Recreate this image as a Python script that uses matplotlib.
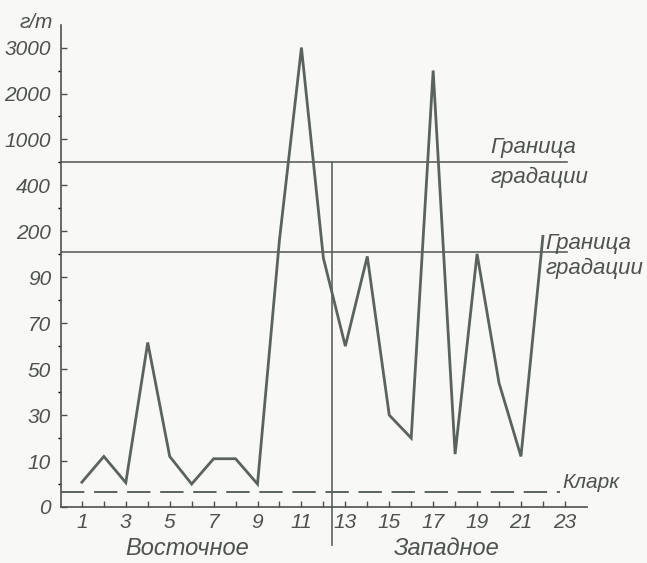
import numpy as np
import matplotlib
matplotlib.use('Agg')
import matplotlib.pyplot as plt

# sample numbers along the profile and content, g/t
sample_no = np.arange(1, 23)
content = [5.4, 12, 5.3, 61.6, 12, 5, 11, 11, 5, 180, 3000,
           136, 60, 140, 30, 20, 2500, 13, 146, 44, 12, 188]

# non-uniform scale of the original drawing
scale_ticks = [0, 10, 30, 50, 70, 90, 200, 400, 1000, 2000, 3000]
scale_minor = [5, 20, 40, 60, 80, 145, 300, 700, 1500, 2500]
x_labels = [str(n) if n % 2 else '' for n in range(1, 24)]

upper_limit = 706   # Граница градации (upper)
lower_limit = 150   # Граница градации (lower)
clarke = 3.2        # Кларк
split_x = 12.4      # boundary Восточное / Западное

idx = np.arange(len(scale_ticks), dtype=float)


def fwd(v):
    v = np.asarray(v, dtype=float)
    out = np.interp(v, scale_ticks, idx)
    out = np.where(v < 0, v / 10.0, out)
    out = np.where(v > 3000, 10 + (v - 3000) / 1000.0, out)
    return out


def inv(p):
    p = np.asarray(p, dtype=float)
    out = np.interp(p, idx, scale_ticks)
    out = np.where(p < 0, p * 10.0, out)
    out = np.where(p > 10, 3000 + (p - 10) * 1000.0, out)
    return out


plt.rcParams['font.family'] = ['Liberation Sans', 'DejaVu Sans']
plt.rcParams['font.style'] = 'italic'
ink = '#4e524f'
line_c = '#5c625e'

fig = plt.figure(figsize=(6.47, 5.63), dpi=100, facecolor='#f8f8f6')
ax = fig.add_axes([0.094, 0.0995, 0.813, 0.856])
ax.set_facecolor('#f8f8f6')
ax.set_yscale('function', functions=(fwd, inv))
ax.set_ylim(0, 3490)
ax.set_xlim(0.04, 24.0)

ax.plot(sample_no, content, color=line_c, lw=2.0, solid_joinstyle='miter', zorder=3)

ax.plot([0.04, 23.1], [upper_limit, upper_limit], color=line_c, lw=1.2)
ax.plot([0.04, 23.1], [lower_limit, lower_limit], color=line_c, lw=1.2)
ax.plot([0.04, 22.8], [clarke, clarke], color=line_c, lw=1.4, dashes=(12, 5))
ax.plot([split_x, split_x], [-8.2, upper_limit], color=line_c, lw=1.2, clip_on=False)

for s in ['top', 'right']:
    ax.spines[s].set_visible(False)
for s in ['left', 'bottom']:
    ax.spines[s].set_color(ink)
    ax.spines[s].set_linewidth(1.2)

ax.set_yticks(scale_ticks)
ax.set_yticklabels([str(t) for t in scale_ticks])
ax.set_yticks(scale_minor, minor=True)
ax.set_xticks(range(1, 24))
ax.set_xticklabels(x_labels)
ax.tick_params(axis='both', direction='in', colors=ink, labelsize=15, width=1.0)
ax.tick_params(axis='y', which='major', length=4, pad=7)
ax.tick_params(axis='y', which='minor', length=2.5, width=1.0)
ax.tick_params(axis='x', length=4, pad=4)

ax.text(-0.3, 3550, 'г/т', fontsize=15, color=ink, ha='right', va='center', clip_on=False)

ax.text(19.6, 892, 'Граница', fontsize=16, color=ink, ha='left', va='center', clip_on=False)
ax.text(19.6, 508, 'градации', fontsize=16, color=ink, ha='left', va='center', clip_on=False)
ax.text(22.1, 172, 'Граница', fontsize=16, color=ink, ha='left', va='center', clip_on=False)
ax.text(22.1, 112, 'градации', fontsize=16, color=ink, ha='left', va='center', clip_on=False)
ax.text(22.9, 5.3, 'Кларк', fontsize=15, color=ink, ha='left', va='center', clip_on=False)

ax.text(5.8, -9.0, 'Восточное', fontsize=17, color=ink, ha='center', va='center', clip_on=False)
ax.text(17.6, -9.0, 'Западное', fontsize=17, color=ink, ha='center', va='center', clip_on=False)

fig.savefig('out.png', dpi=100, facecolor=fig.get_facecolor())
